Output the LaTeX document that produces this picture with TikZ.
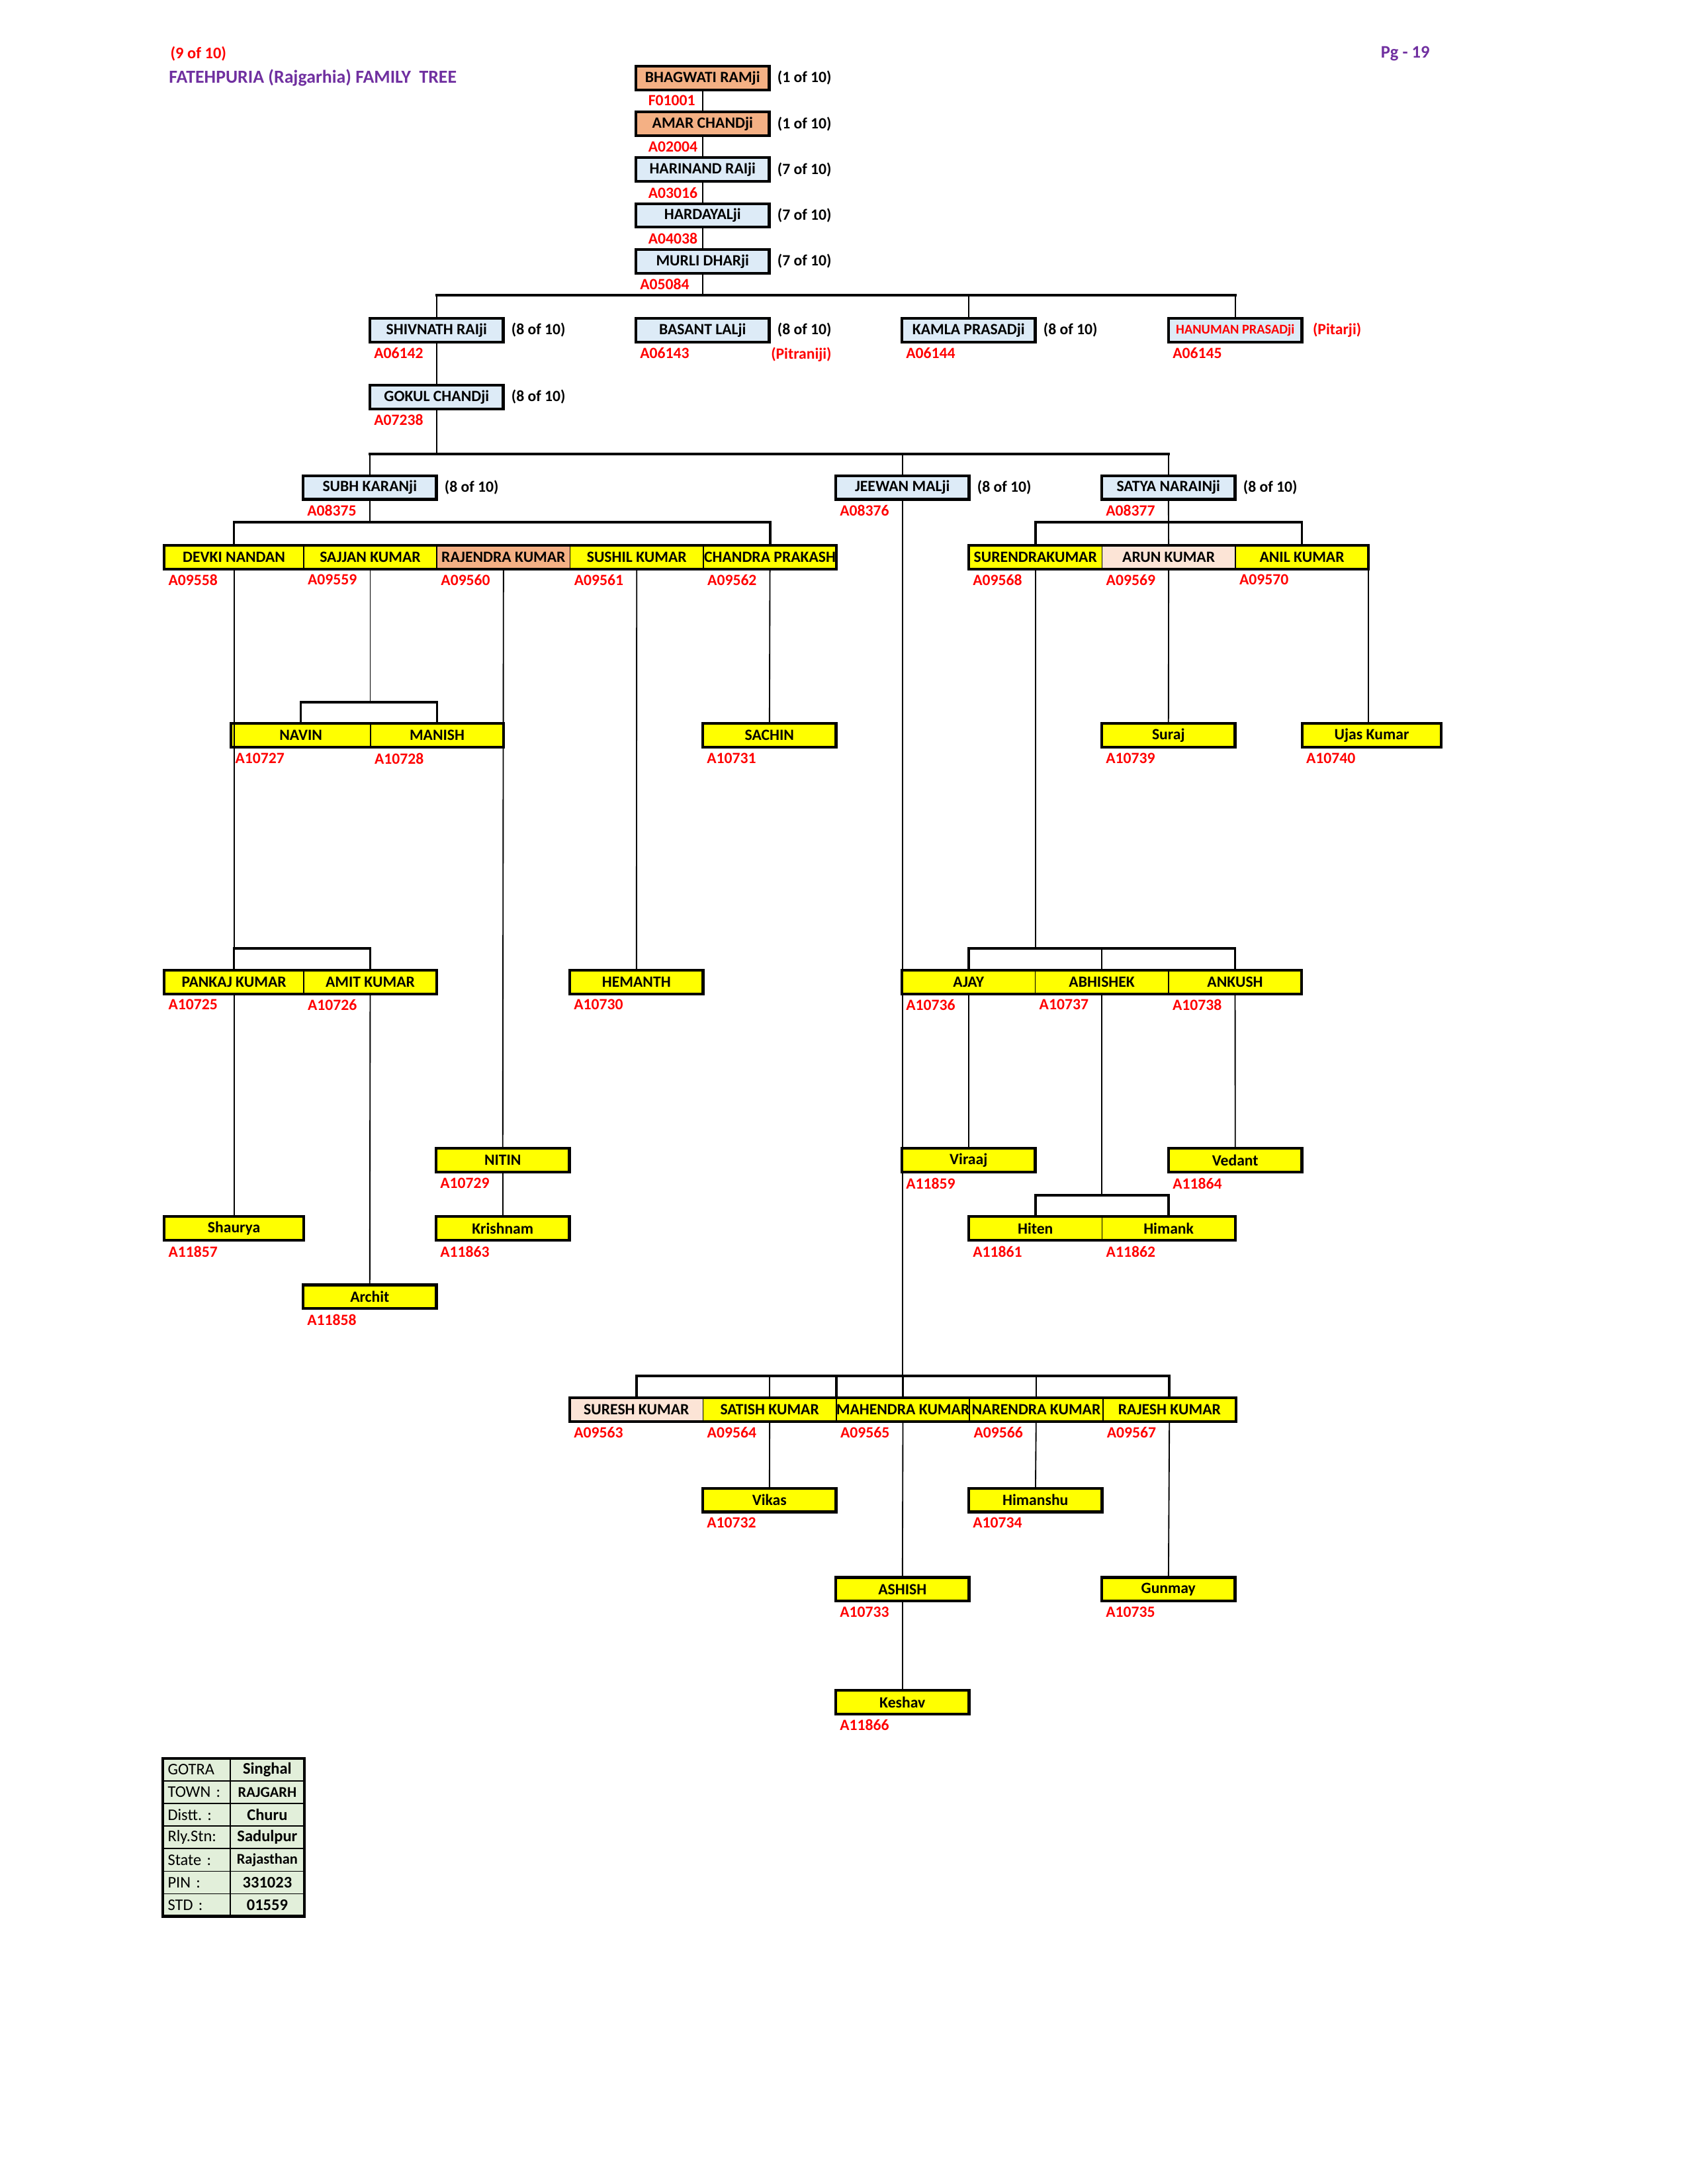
\documentclass[tikz,border=0pt]{standalone}
\usepackage{fontspec}
\setmainfont{Carlito}
\usetikzlibrary{positioning}
\definecolor{FTyellow}{RGB}{255, 255, 0}
\definecolor{FTblue}{RGB}{221, 235, 247}
\definecolor{FTorange}{RGB}{244, 176, 132}
\definecolor{FTpink}{RGB}{252, 228, 214}
\definecolor{FTgreen}{RGB}{226, 239, 218}
\definecolor{FTred}{RGB}{255, 0, 0}
\definecolor{FTpurple}{RGB}{112, 48, 160}
\newcommand{\ftname}{\fontsize{5.7}{6.8}\selectfont\bfseries}
\newcommand{\ftsmall}{\fontsize{4.9}{5.9}\selectfont\bfseries}
\newcommand{\fttab}{\fontsize{5.9}{7}\selectfont}
\tikzset{
  cell/.style={rectangle, draw=black, line width=0.4pt, fill=FTyellow, minimum width=17.05mm,
    minimum height=3.03mm, inner sep=0pt, outer sep=0pt, font=\ftname},
  wide/.style={minimum width=17.82mm},
  solo/.style={cell, line width=1pt},
  elder/.style={solo, fill=FTblue},
  frame/.style={draw=black, line width=1pt},
  link/.style={line width=0.45pt},
  bar/.style={line width=0.9pt, line cap=rect},
  idtag/.style={font=\ftname, text=FTred, inner sep=0.3pt, anchor=north west, xshift=1pt},
  gen/.style={font=\ftname, inner sep=0.3pt},
  infokey/.style={rectangle, draw=black, line width=0.4pt, fill=FTgreen, minimum height=2.887mm,
    minimum width=8.59mm, text width=7.35mm, align=left, inner sep=0pt, outer sep=0pt, font=\fttab},
  infoval/.style={rectangle, draw=black, line width=0.4pt, fill=FTgreen, minimum height=2.887mm,
    minimum width=9.52mm, inner sep=0pt, outer sep=0pt, font=\fttab\bfseries},
}

\begin{document}
\begin{tikzpicture}[x=0.17819mm, y=-0.17819mm]
  \useasboundingbox (0,0) rectangle (1212,1568);
  % headings
  \node[inner sep=0pt, anchor=west, text=FTred, font=\fontsize{5.9}{7}\selectfont\bfseries] (part) at (122,38.4) {(9 of 10)};
  \node[inner sep=0pt, anchor=west, text=FTpurple, font=\fontsize{6.7}{8}\selectfont\bfseries] (title) at (121,56) {FATEHPURIA (Rajgarhia) FAMILY\ \ TREE};
  \node[inner sep=0pt, anchor=east, text=FTpurple, font=\fontsize{6.4}{7.6}\selectfont\bfseries] (page) at (1027,38.4) {Pg - 19};

  % ancestors
  \node[elder, fill=FTorange] (bhagwati) at (504.5,56) {BHAGWATI RAMji};
  \node[elder, fill=FTorange, below=2.83mm of bhagwati] (amar) {AMAR CHANDji};
  \node[elder, below=2.83mm of amar] (harinand) {HARINAND RAIji};
  \node[elder, below=2.83mm of harinand] (hardayal) {HARDAYALji};
  \node[elder, below=2.83mm of hardayal] (murli) {MURLI DHARji};
  \node[gen, right=2.5pt of bhagwati] (bhagwatin) {(1 of 10)};
  \node[gen, right=2.5pt of amar] (amarn) {(1 of 10)};
  \node[gen, right=2.5pt of harinand] (harinandn) {(7 of 10)};
  \node[gen, right=2.5pt of hardayal] (hardayaln) {(7 of 10)};
  \node[gen, right=2.5pt of murli] (murlin) {(7 of 10)};
  \node[below=1.6pt of bhagwati.south west, idtag, xshift=3pt] (bhagwatiid) {F01001};
  \node[below=1.6pt of amar.south west, idtag, xshift=3pt] (amarid) {A02004};
  \node[below=1.6pt of harinand.south west, idtag, xshift=3pt] (harinandid) {A03016};
  \node[below=1.6pt of hardayal.south west, idtag, xshift=3pt] (hardayalid) {A04038};
  \node[below=1.6pt of murli.south west, idtag] (murliid) {A05084};

  % sons of murli dharji
  \node[elder] (shivnath) at (313.5,237) {SHIVNATH RAIji};
  \node[elder] (basant) at (504.5,237) {BASANT LALji};
  \node[elder] (kamla) at (695.5,237) {KAMLA PRASADji};
  \node[elder, font=\ftsmall, text=FTred] (hanuman) at (887,237) {HANUMAN PRASADji};
  \node[gen, right=2.5pt of shivnath] (shivnathn) {(8 of 10)};
  \node[gen, right=2.5pt of basant] (basantn) {(8 of 10)};
  \node[gen, right=2.5pt of kamla] (kamlan) {(8 of 10)};
  \node[gen, text=FTred, right=3.5pt of hanuman] (hanumann) {(Pitarji)};
  \node[below=1.6pt of shivnath.south west, idtag] (shivnathid) {A06142};
  \node[below=1.6pt of basant.south west, idtag] (basantid) {A06143};
  \node[below=1.6pt of kamla.south west, idtag] (kamlaid) {A06144};
  \node[below=1.6pt of hanuman.south west, idtag] (hanumanid) {A06145};
  \node[gen, text=FTred, anchor=north east] (basantp) at (basantn.east |- basantid.north) {(Pitraniji)};

  \node[elder] (gokul) at (313.5,285) {GOKUL CHANDji};
  \node[gen, right=2.5pt of gokul] (gokuln) {(8 of 10)};
  \node[below=1.6pt of gokul.south west, idtag] (gokulid) {A07238};

  \node[elder] (subh) at (265.5,350) {SUBH KARANji};
  \node[elder] (jeewan) at (648,350) {JEEWAN MALji};
  \node[elder] (satya) at (839,350) {SATYA NARAINji};
  \node[gen, right=2.5pt of subh] (subhn) {(8 of 10)};
  \node[gen, right=2.5pt of jeewan] (jeewann) {(8 of 10)};
  \node[gen, right=2.5pt of satya] (satyan) {(8 of 10)};
  \node[below=1.6pt of subh.south west, idtag] (subhid) {A08375};
  \node[below=1.6pt of jeewan.south west, idtag] (jeewanid) {A08376};
  \node[below=1.6pt of satya.south west, idtag] (satyaid) {A08377};

  % grandsons
  \node[cell, wide] (devki) at (168,400) {DEVKI NANDAN};
  \node[cell, right=0pt of devki] (sajjan) {SAJJAN KUMAR};
  \node[cell, fill=FTorange, right=0pt of sajjan] (rajendra) {RAJENDRA KUMAR};
  \node[cell, right=0pt of rajendra] (sushil) {SUSHIL KUMAR};
  \node[cell, right=0pt of sushil] (chandra) {CHANDRA PRAKASH};
  \draw[frame] (devki.north west) rectangle (chandra.south east);
  \node[cell] (surendra) at (743.5,400) {SURENDRAKUMAR};
  \node[cell, fill=FTpink, right=0pt of surendra] (arun) {ARUN KUMAR};
  \node[cell, right=0pt of arun] (anil) {ANIL KUMAR};
  \draw[frame] (surendra.north west) rectangle (anil.south east);
  \node[below=1.6pt of devki.south west, idtag] (devkiid) {A09558};
  \node[below=1.6pt of sajjan.south west, idtag] (sajjanid) {A09559};
  \node[below=1.6pt of rajendra.south west, idtag] (rajendraid) {A09560};
  \node[below=1.6pt of sushil.south west, idtag] (sushilid) {A09561};
  \node[below=1.6pt of chandra.south west, idtag] (chandraid) {A09562};
  \node[below=1.6pt of surendra.south west, idtag] (surendraid) {A09568};
  \node[below=1.6pt of arun.south west, idtag] (arunid) {A09569};
  \node[below=1.6pt of anil.south west, idtag] (anilid) {A09570};

  \node[cell, wide] (navin) at (216,528) {NAVIN};
  \node[cell, right=0pt of navin] (manish) {MANISH};
  \draw[frame] (navin.north west) rectangle (manish.south east);
  \node[solo] (sachin) at (552.5,528) {SACHIN};
  \node[solo] (suraj) at (839,528) {Suraj};
  \node[solo, wide] (ujas) at (985,528) {Ujas Kumar};
  \node[below=1.6pt of navin.south west, idtag] (navinid) {A10727};
  \node[below=1.6pt of manish.south west, idtag] (manishid) {A10728};
  \node[below=1.6pt of sachin.south west, idtag] (sachinid) {A10731};
  \node[below=1.6pt of suraj.south west, idtag] (surajid) {A10739};
  \node[below=1.6pt of ujas.south west, idtag] (ujasid) {A10740};

  \node[cell, wide] (pankaj) at (168,705) {PANKAJ KUMAR};
  \node[cell, right=0pt of pankaj] (amit) {AMIT KUMAR};
  \draw[frame] (pankaj.north west) rectangle (amit.south east);
  \node[solo] (hemanth) at (457,705) {HEMANTH};
  \node[cell] (ajay) at (695.5,705) {AJAY};
  \node[cell, right=0pt of ajay] (abhishek) {ABHISHEK};
  \node[cell, right=0pt of abhishek] (ankush) {ANKUSH};
  \draw[frame] (ajay.north west) rectangle (ankush.south east);
  \node[below=1.6pt of pankaj.south west, idtag] (pankajid) {A10725};
  \node[below=1.6pt of amit.south west, idtag] (amitid) {A10726};
  \node[below=1.6pt of hemanth.south west, idtag] (hemanthid) {A10730};
  \node[below=1.6pt of ajay.south west, idtag] (ajayid) {A10736};
  \node[below=1.6pt of abhishek.south west, idtag] (abhishekid) {A10737};
  \node[below=1.6pt of ankush.south west, idtag] (ankushid) {A10738};

  \node[solo] (nitin) at (361,833) {NITIN};
  \node[solo] (viraaj) at (695.5,833) {Viraaj};
  \node[solo] (vedant) at (887,833) {Vedant};
  \node[below=1.6pt of nitin.south west, idtag] (nitinid) {A10729};
  \node[below=1.6pt of viraaj.south west, idtag] (viraajid) {A11859};
  \node[below=1.6pt of vedant.south west, idtag] (vedantid) {A11864};

  \node[solo, wide] (shaurya) at (168,882) {Shaurya};
  \node[solo] (krishnam) at (361,882) {Krishnam};
  \node[cell] (hiten) at (743.5,882) {Hiten};
  \node[cell, right=0pt of hiten] (himank) {Himank};
  \draw[frame] (hiten.north west) rectangle (himank.south east);
  \node[below=1.6pt of shaurya.south west, idtag] (shauryaid) {A11857};
  \node[below=1.6pt of krishnam.south west, idtag] (krishnamid) {A11863};
  \node[below=1.6pt of hiten.south west, idtag] (hitenid) {A11861};
  \node[below=1.6pt of himank.south west, idtag] (himankid) {A11862};

  \node[solo] (archit) at (265.5,931) {Archit};
  \node[below=1.6pt of archit.south west, idtag] (architid) {A11858};

  % sons of jeewan malji
  \node[cell, fill=FTpink] (suresh) at (457,1012) {SURESH KUMAR};
  \node[cell, right=0pt of suresh] (satish) {SATISH KUMAR};
  \node[cell, right=0pt of satish] (mahendra) {MAHENDRA KUMAR};
  \node[cell, right=0pt of mahendra] (narendra) {NARENDRA KUMAR};
  \node[cell, right=0pt of narendra] (rajesh) {RAJESH KUMAR};
  \draw[frame] (suresh.north west) rectangle (rajesh.south east);
  \node[below=1.6pt of suresh.south west, idtag] (sureshid) {A09563};
  \node[below=1.6pt of satish.south west, idtag] (satishid) {A09564};
  \node[below=1.6pt of mahendra.south west, idtag] (mahendraid) {A09565};
  \node[below=1.6pt of narendra.south west, idtag] (narendraid) {A09566};
  \node[below=1.6pt of rajesh.south west, idtag] (rajeshid) {A09567};

  \node[solo] (vikas) at (552.5,1077) {Vikas};
  \node[solo] (himanshu) at (743.5,1077) {Himanshu};
  \node[solo] (ashish) at (648,1141) {ASHISH};
  \node[solo] (gunmay) at (839,1141) {Gunmay};
  \node[solo] (keshav) at (648,1222) {Keshav};
  \node[below=1.6pt of vikas.south west, idtag] (vikasid) {A10732};
  \node[below=1.6pt of himanshu.south west, idtag] (himanshuid) {A10734};
  \node[below=1.6pt of ashish.south west, idtag] (ashishid) {A10733};
  \node[below=1.6pt of gunmay.south west, idtag] (gunmayid) {A10735};
  \node[below=1.6pt of keshav.south west, idtag] (keshavid) {A11866};

  % bar levels
  \coordinate (lvT) at (0,212);
  \coordinate (lvG) at (0,326);
  \coordinate (lvC) at (0,375);
  \coordinate (lvNM) at (0,504);
  \coordinate (lvPK) at (0,681);
  \coordinate (lvHH) at (0,858);
  \coordinate (lvB) at (0,988);

  % connectors
  \draw[link] (bhagwati) -- (amar);
  \draw[link] (amar) -- (harinand);
  \draw[link] (harinand) -- (hardayal);
  \draw[link] (hardayal) -- (murli);
  \draw[link] (murli.south) -- (murli.south |- lvT);
  \draw[bar] (shivnath.north |- lvT) -- (hanuman.north |- lvT);
  \draw[link] (shivnath.north |- lvT) -- (shivnath.north);
  \draw[link] (kamla.north |- lvT) -- (kamla.north);
  \draw[link] (hanuman.north |- lvT) -- (hanuman.north);
  \draw[link] (shivnath) -- (gokul);

  \draw[link] (gokul.south) -- (gokul.south |- lvG);
  \draw[bar] (subh.north |- lvG) -- (satya.north |- lvG);
  \draw[link] (subh.north |- lvG) -- (subh.north);
  \draw[link] (jeewan.north |- lvG) -- (jeewan.north);
  \draw[link] (satya.north |- lvG) -- (satya.north);

  \draw[link] (subh.south) -- (subh.south |- lvC);
  \draw[bar] (devki.north) -- (devki.north |- lvC) -- (chandra.north |- lvC) -- (chandra.north);
  \draw[link] (satya) -- (arun);
  \draw[bar] (surendra.north) -- (surendra.north |- lvC) -- (anil.north |- lvC) -- (anil.north);

  \draw[link] (sajjan.south) -- (sajjan.south |- lvNM);
  \draw[bar] (navin.north) -- (navin.north |- lvNM) -- (manish.north |- lvNM) -- (manish.north);
  \draw[link] (chandra) -- (sachin);
  \draw[link] (arun) -- (suraj);
  \draw[link] (anil.south east) -- (anil.south east |- ujas.north);

  \draw[link] (devki.south) -- (devki.south |- lvPK);
  \draw[bar] (pankaj.north) -- (pankaj.north |- lvPK) -- (amit.north |- lvPK) -- (amit.north);
  \draw[link] (sushil) -- (hemanth);
  \draw[link] (surendra.south) -- (surendra.south |- lvPK);
  \draw[bar] (ajay.north) -- (ajay.north |- lvPK) -- (ankush.north |- lvPK) -- (ankush.north);
  \draw[link] (abhishek.north |- lvPK) -- (abhishek.north);

  \draw[link] (rajendra) -- (nitin);
  \draw[link] (nitin) -- (krishnam);
  \draw[link] (ajay) -- (viraaj);
  \draw[link] (ankush) -- (vedant);
  \draw[link] (abhishek.south) -- (abhishek.south |- lvHH);
  \draw[bar] (hiten.north) -- (hiten.north |- lvHH) -- (himank.north |- lvHH) -- (himank.north);
  \draw[link] (pankaj) -- (shaurya);
  \draw[link] (amit) -- (archit);

  \draw[link] (jeewan.south) -- (jeewan.south |- lvB);
  \draw[bar] (suresh.north) -- (suresh.north |- lvB) -- (rajesh.north |- lvB) -- (rajesh.north);
  \draw[bar] (satish.north east |- lvB) -- (satish.north east);
  \draw[bar] (mahendra.north |- lvB) -- (mahendra.north);
  \draw[link] (satish.north |- lvB) -- (satish.north);
  \draw[link] (narendra.north |- lvB) -- (narendra.north);
  \draw[link] (satish) -- (vikas);
  \draw[link] (mahendra) -- (ashish);
  \draw[link] (ashish) -- (keshav);
  \draw[link] (narendra) -- (himanshu);
  \draw[link] (rajesh) -- (gunmay);

  % address table
  \node[infokey] (gotrak) at (141.1,1270.5) {GOTRA};
  \node[infokey, below=0pt of gotrak] (townk) {TOWN :};
  \node[infokey, below=0pt of townk] (disttk) {Distt.\ :};
  \node[infokey, below=0pt of disttk] (stationk) {Rly.Stn:};
  \node[infokey, below=0pt of stationk] (statek) {State :};
  \node[infokey, below=0pt of statek] (pink) {PIN :};
  \node[infokey, below=0pt of pink] (stdk) {STD :};
  \node[infoval, right=0pt of gotrak] (gotrav) {Singhal};
  \node[infoval, right=0pt of townk, font=\fontsize{5.4}{6.4}\selectfont\bfseries] (townv) {RAJGARH};
  \node[infoval, right=0pt of disttk] (disttv) {Churu};
  \node[infoval, right=0pt of stationk] (stationv) {Sadulpur};
  \node[infoval, right=0pt of statek, font=\fontsize{5.4}{6.4}\selectfont\bfseries] (statev) {Rajasthan};
  \node[infoval, right=0pt of pink] (pinv) {331023};
  \node[infoval, right=0pt of stdk] (stdv) {01559};
  \draw[frame] (gotrak.north west) rectangle (stdv.south east);
\end{tikzpicture}
\end{document}
